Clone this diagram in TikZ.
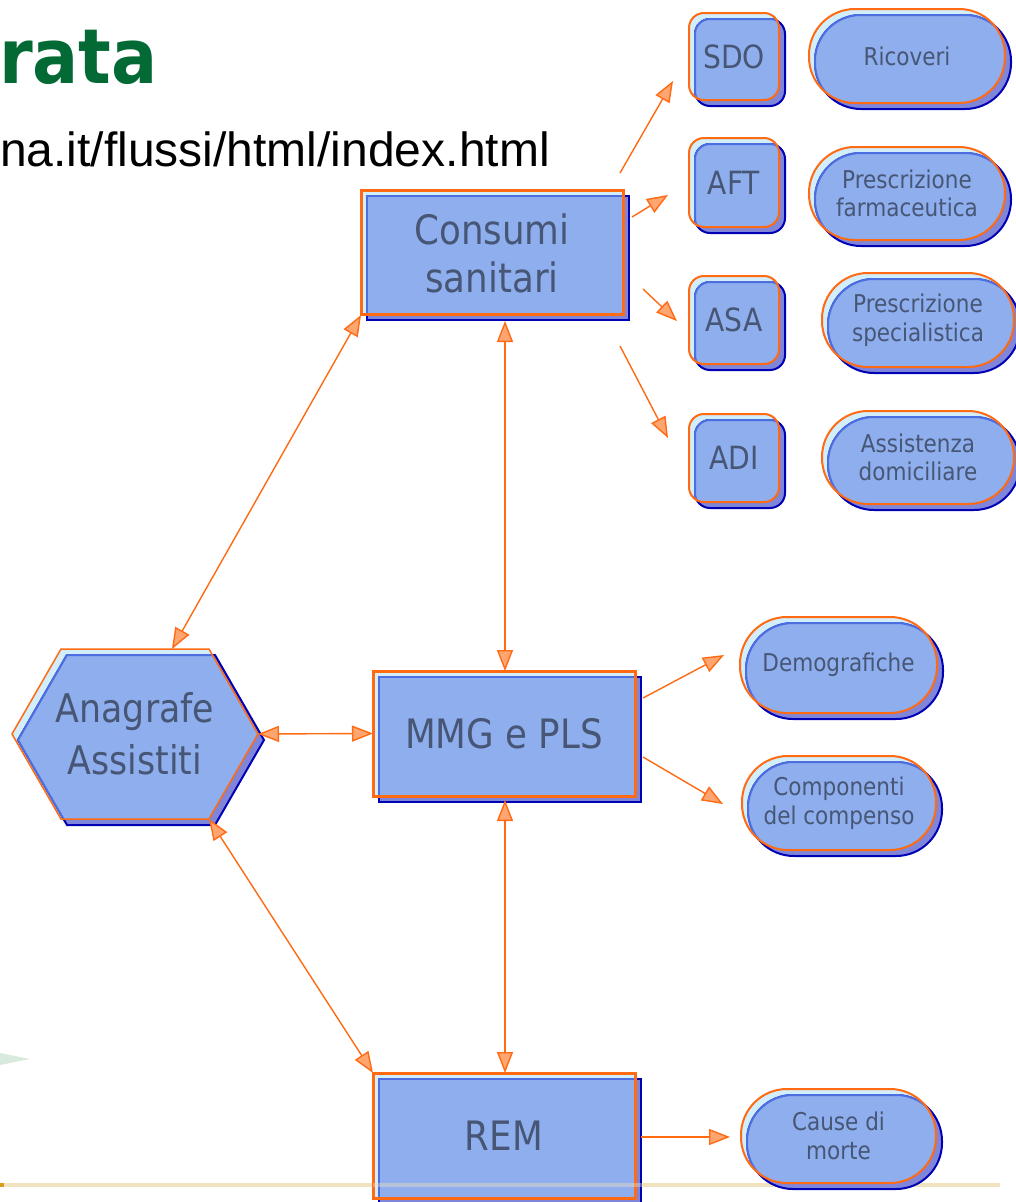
\documentclass[tikz,border=0pt]{standalone}
\usepackage{fontspec}
\setmainfont{DejaVu Sans}
\newfontfamily\tah[FakeStretch=0.88]{DejaVu Sans}
\newfontfamily\titlef[FakeStretch=0.9]{DejaVu Sans}
\newfontfamily\arialf{Liberation Sans}
\usetikzlibrary{arrows.meta}
\definecolor{cyanl}{HTML}{D2EEFA}
\definecolor{shadowb}{HTML}{7F86DA}
\definecolor{navyb}{HTML}{0000B4}
\definecolor{mainb}{HTML}{8EAEEE}
\definecolor{lightb}{HTML}{4D6EE0}
\definecolor{orng}{HTML}{FF6A13}
\definecolor{arrfill}{HTML}{FFA670}
\definecolor{txtc}{HTML}{475674}
\definecolor{titleg}{HTML}{046A35}
\definecolor{beige}{HTML}{F2E3C0}
\definecolor{goldc}{HTML}{D4A020}
\definecolor{greenl}{HTML}{D8EADB}
\tikzset{tp/.tip={Triangle[length=21pt,width=16pt,fill=arrfill]}}
\newcommand\layered[3]{%
  \fill[cyanl,rounded corners=#1] #3;
  \begin{scope}[shift={(6,6)}]
    \filldraw[fill=shadowb,draw=navyb,line width=2pt,rounded corners=#1] #3;
  \end{scope}
  \begin{scope}
    \clip[rounded corners=#1] #3;
    \begin{scope}[shift={(6,6)}]
      \filldraw[fill=mainb,draw=lightb,line width=2pt,rounded corners=#1] #3;
    \end{scope}
  \end{scope}
  \draw[draw=orng,line width=#2,rounded corners=#1] #3;
}
\begin{document}
\begin{tikzpicture}[x=1pt,y=-1pt,
  lbl/.style={inner sep=0pt,outer sep=0pt,text=txtc,align=center,rectangle},
  big/.style={lbl,font=\tah\fontsize{40.5}{48}\selectfont},
  mid/.style={lbl,font=\tah\fontsize{32}{38}\selectfont},
  sml/.style={lbl,font=\tah\fontsize{24.5}{28.5}\selectfont},
  conn/.style={draw=orng,line width=1.4pt}]
\useasboundingbox (0,0) rectangle (1015,1202);
\fill[white] (0,0) rectangle (1015,1202);
% background decoration
\fill[beige] (0,1183) rectangle (1000,1187);
\fill[goldc] (0,1183) rectangle (4,1187);
\fill[greenl] (0,1053) -- (30,1059) -- (0,1065) -- cycle;
% title and url
\node[inner sep=0pt,anchor=base east,text=titleg,font=\titlef\bfseries\fontsize{76}{80}\selectfont] (title) at (158,83) {rata};
\node[inner sep=0pt,anchor=base west,font=\arialf\fontsize{48}{50}\selectfont] (url) at (0,166) {na.it/flussi/html/index.html};
% shapes
\layered{0pt}{3pt}{(361,190) rectangle (623,314)}
\layered{0pt}{3pt}{(373,671) rectangle (635,796)}
\layered{0pt}{3pt}{(373,1073) rectangle (635,1198)}
\layered{0pt}{1.5pt}{(12,734) -- (61,649) -- (209,649) -- (258,734) -- (209,819) -- (61,819) -- cycle}
\layered{15pt}{2pt}{(689,13) rectangle (779,100)}
\layered{15pt}{2pt}{(689,138) rectangle (779,227)}
\layered{15pt}{2pt}{(689,276) rectangle (779,364)}
\layered{15pt}{2pt}{(689,414) rectangle (779,502)}
\layered{46pt}{2pt}{(809,9) rectangle (1005,103)}
\layered{46pt}{2pt}{(809,147) rectangle (1005,240)}
\layered{46pt}{2pt}{(822,273) rectangle (1014,367)}
\layered{46pt}{2pt}{(822,411) rectangle (1014,504)}
\layered{47pt}{2pt}{(740,617) rectangle (937,713)}
\layered{46pt}{2pt}{(742,756) rectangle (936,850)}
\layered{46pt}{2pt}{(741,1089) rectangle (936,1183)}
\fill[beige,opacity=0.4] (373,1183) rectangle (642,1187);
% labels (named nodes)
\node[big,minimum width=262pt,minimum height=124pt] (cons) at (492,253) {Consumi\\sanitari};
\node[big,minimum width=262pt,minimum height=125pt] (mmg) at (504,733.5) {MMG e PLS};
\node[big,minimum width=262pt,minimum height=125pt] (rem) at (504,1135.5) {REM};
\node[lbl,font=\tah\fontsize{39.5}{52}\selectfont,minimum width=246pt,minimum height=170pt] (ana) at (135,734) {Anagrafe\\Assistiti};
\node[mid,minimum width=90pt,minimum height=87pt] (sdo) at (734,56.5) {SDO};
\node[mid,minimum width=90pt,minimum height=89pt] (aft) at (734,182.5) {AFT};
\node[mid,minimum width=90pt,minimum height=88pt] (asa) at (734,320) {ASA};
\node[mid,minimum width=90pt,minimum height=88pt] (adi) at (734,458) {ADI};
\node[sml,minimum width=196pt,minimum height=94pt] (ric) at (907,56) {Ricoveri};
\node[sml,minimum width=196pt,minimum height=93pt] (far) at (907,193.5) {Prescrizione\\farmaceutica};
\node[sml,minimum width=192pt,minimum height=94pt] (spe) at (918,320) {Prescrizione\\specialistica};
\node[sml,minimum width=192pt,minimum height=93pt] (ass) at (918,457.5) {Assistenza\\domiciliare};
\node[sml,minimum width=197pt,minimum height=96pt] (dem) at (838.5,665) {Demografiche};
\node[sml,minimum width=194pt,minimum height=94pt] (com) at (839,803) {Componenti\\del compenso};
\node[sml,minimum width=195pt,minimum height=94pt] (cau) at (838.5,1136) {Cause di\\morte};
% connectors
\draw[conn,tp-tp] (cons.south west) -- ([xshift=37pt]ana.north);
\draw[conn,tp-tp] ([xshift=13pt,yshift=-6pt]cons.south) -- ([xshift=1pt]mmg.north);
\draw[conn,tp-tp] (ana.east) -- (mmg.west);
\draw[conn,tp-tp] ([xshift=74pt]ana.south) -- (rem.north west);
\draw[conn,tp-tp] ([xshift=1pt,yshift=-4pt]mmg.south) -- ([xshift=1pt]rem.north);
\draw[conn,-tp] ([xshift=-3pt,yshift=18pt]cons.north east) -- ([xshift=-16pt,yshift=19pt]sdo.south west);
\draw[conn,-tp] ([xshift=9pt,yshift=36pt]cons.east) -- ([xshift=-21pt,yshift=-12.5pt]aft.west);
\draw[conn,-tp] ([xshift=20pt,yshift=-36pt]cons.east) -- ([xshift=-12pt,yshift=-1pt]asa.west);
\draw[conn,-tp] ([xshift=-3pt,yshift=-31pt]cons.south east) -- ([xshift=-21pt,yshift=20pt]adi.west);
\draw[conn,-tp] ([xshift=8pt,yshift=35.5pt]mmg.east) -- ([xshift=-16pt,yshift=10pt]dem.west);
\draw[conn,-tp] ([xshift=8pt,yshift=-23.5pt]mmg.east) -- ([xshift=-19pt,yshift=-1pt]com.west);
\draw[conn,-tp] ([xshift=6pt,yshift=-1.5pt]rem.east) -- ([xshift=-11pt,yshift=-1pt]cau.west);
\end{tikzpicture}
\end{document}
